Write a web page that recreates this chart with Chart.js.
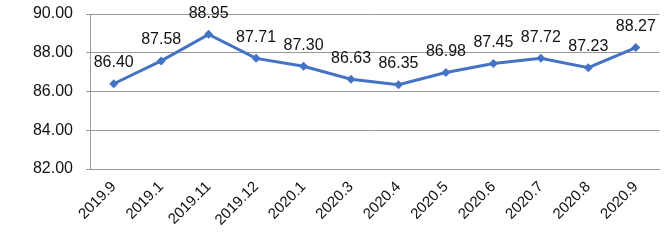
<!DOCTYPE html>
<html>
<head>
<meta charset="utf-8">
<script src="https://cdn.jsdelivr.net/npm/chart.js@4/dist/chart.umd.min.js"></script>
<style>
html,body{margin:0;padding:0;background:#fff;}
#wrap{width:664px;height:246px;position:relative;}
</style>
</head>
<body>
<div id="wrap"><canvas id="c" width="664" height="246"></canvas></div>
<script>
const categories = ["2019.9","2019.1","2019.11","2019.12","2020.1","2020.3","2020.4","2020.5","2020.6","2020.7","2020.8","2020.9"];
const values = [86.40, 87.58, 88.95, 87.71, 87.30, 86.63, 86.35, 86.98, 87.45, 87.72, 87.23, 88.27];
const yTicks = [82, 84, 86, 88, 90];

const FONT = "'Liberation Sans', Arial, sans-serif";

const labelPlugin = {
  id: 'valueLabels',
  afterDatasetsDraw(chart) {
    const ctx = chart.ctx;
    const meta = chart.getDatasetMeta(0);
    ctx.save();
    ctx.font = "16px " + FONT;
    ctx.fillStyle = "#111";
    ctx.textAlign = "center";
    ctx.textBaseline = "middle";
    meta.data.forEach((pt, i) => {
      ctx.fillText(values[i].toFixed(2), pt.x, pt.y - 21);
    });
    ctx.restore();
  }
};

new Chart(document.getElementById('c'), {
  type: 'line',
  data: {
    labels: categories,
    datasets: [{
      data: values,
      borderColor: '#4472C4',
      backgroundColor: '#4472C4',
      borderWidth: 3,
      pointStyle: 'rectRot',
      pointRadius: 4.5,
      pointBorderWidth: 0,
      tension: 0,
      clip: false
    }]
  },
  options: {
    responsive: false,
    animation: false,
    events: [],
    layout: { padding: { left: 0, right: 2, top: 14, bottom: 0 } },
    plugins: { legend: { display: false }, tooltip: { enabled: false } },
    scales: {
      x: {
        offset: true,
        grid: { display: false, drawTicks: false },
        border: { display: true, color: '#999', width: 1 },
        ticks: {
          color: '#111',
          font: { family: FONT, size: 15 },
          minRotation: 45,
          maxRotation: 45,
          padding: 9
        },
        afterFit(scale) { scale.height = 77; scale.paddingLeft = 0; scale.paddingRight = 0; }
      },
      y: {
        min: 82,
        max: 90,
        afterBuildTicks(scale) { scale.ticks = yTicks.map(v => ({ value: v })); },
        grid: { color: '#999', lineWidth: 1, tickLength: 4 },
        border: { display: true, color: '#999', width: 1 },
        ticks: {
          color: '#111',
          font: { family: FONT, size: 16 },
          padding: 13,
          callback: v => Number(v).toFixed(2)
        },
        afterFit(scale) { scale.width = 90; scale.paddingTop = 0; scale.paddingBottom = 0; }
      }
    }
  },
  plugins: [labelPlugin]
});
</script>
</body>
</html>
